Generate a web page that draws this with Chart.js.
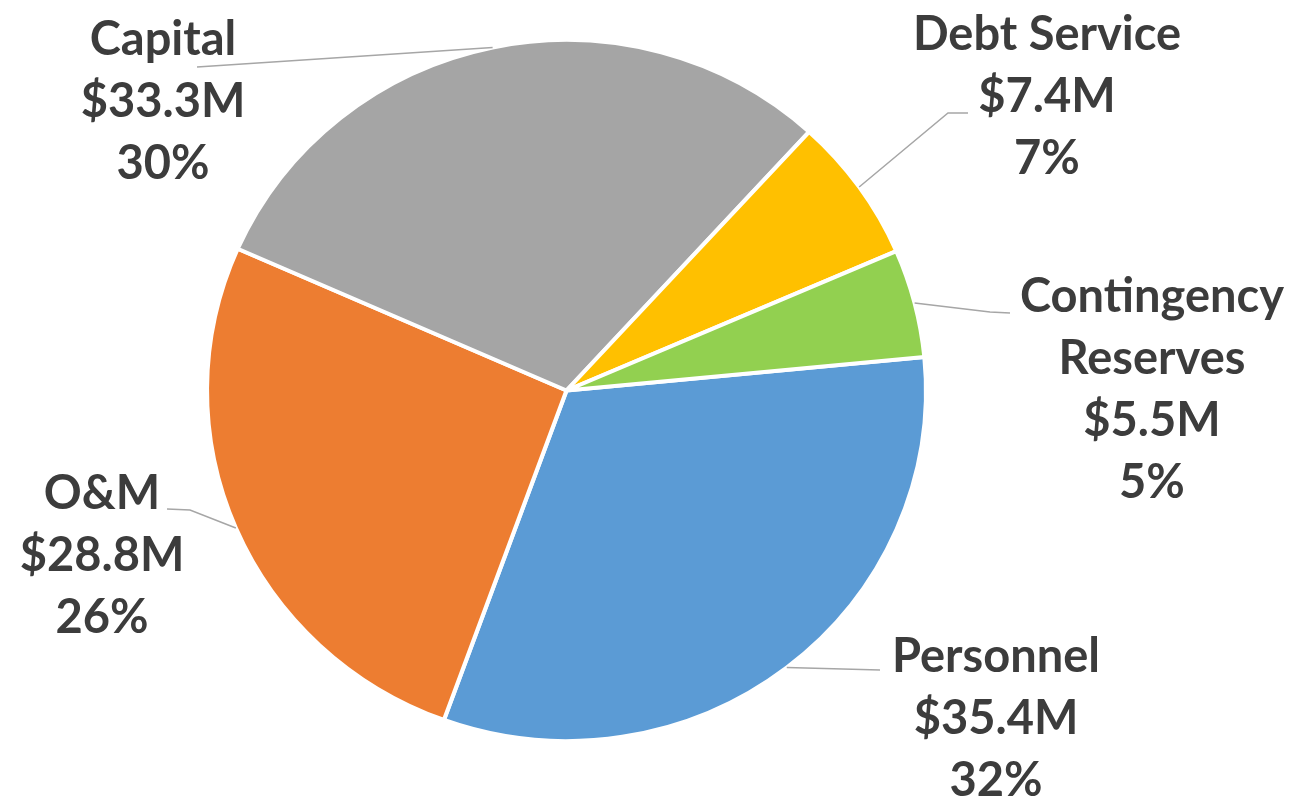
<!DOCTYPE html>
<html>
<head>
<meta charset="utf-8">
<script src="https://cdn.jsdelivr.net/npm/chart.js@4.4.1/dist/chart.umd.min.js"></script>
<style>
    html, body { margin: 0; padding: 0; background: #ffffff; }
    #wrap { width: 1289px; height: 798px; position: relative; }
</style>
</head>
<body>
<div id="wrap"><canvas id="pie-chart"></canvas></div>
<script>
// Budget categories (clockwise from Personnel)
const categories = ["Personnel", "O&M", "Capital", "Debt Service", "Contingency Reserves"];
const nameLines = [["Personnel"], ["O&M"], ["Capital"], ["Debt Service"], ["Contingency", "Reserves"]];
const amounts = [35.4, 28.8, 33.3, 7.4, 5.5]; // $M
const sliceColors = ["#5B9BD5", "#ED7D31", "#A5A5A5", "#FFC000", "#92D050"];

// label placement (text centre x, first baseline y, leader elbow, leader end)
const labelLayout = [
    { cx: 996, by: 672, ex: 880, ey: 670, tx: 880, ty: 670 },
    { cx: 102, by: 509, ex: 190, ey: 510, tx: 167, ty: 509 },
    { cx: 163, by: 55, ex: 197, ey: 67, tx: 197, ty: 67 },
    { cx: 1047, by: 50, ex: 948, ey: 113, tx: 968, ty: 113 },
    { cx: 1152, by: 312, ex: 990, ey: 312, tx: 1010, ty: 313 }
];

// the original pie is a little wider than tall
const stretchX = 1.0257;

const total = amounts.reduce((a, b) => a + b, 0);

const outsideLabels = {
    id: "outsideLabels",
    beforeDatasetsDraw(chart) {
        const a = chart.chartArea;
        const cx = (a.left + a.right) / 2;
        const cy = (a.top + a.bottom) / 2;
        chart.ctx.save();
        chart.ctx.translate(cx, cy);
        chart.ctx.scale(stretchX, 1);
        chart.ctx.translate(-cx, -cy);
    },
    afterDatasetsDraw(chart) {
        const ctx = chart.ctx;
        ctx.restore();
        const arcs = chart.getDatasetMeta(0).data;
        ctx.save();
        arcs.forEach((arc, i) => {
            const p = arc.getProps(["x", "y", "startAngle", "endAngle", "outerRadius"], true);
            const mid = (p.startAngle + p.endAngle) / 2;
            const sx = p.x + Math.cos(mid) * p.outerRadius * stretchX;
            const sy = p.y + Math.sin(mid) * p.outerRadius;
            const L = labelLayout[i];

            // leader line
            ctx.strokeStyle = "#a6a6a6";
            ctx.lineWidth = 1.5;
            ctx.beginPath();
            ctx.moveTo(sx, sy);
            ctx.lineTo(L.ex, L.ey);
            ctx.lineTo(L.tx, L.ty);
            ctx.stroke();

            // text
            const lines = nameLines[i].concat(["$" + amounts[i].toFixed(1) + "M", Math.round(amounts[i] / total * 100) + "%"]);
            ctx.fillStyle = "#3c3c3c";
            ctx.font = "bold 47px Lato";
            ctx.textAlign = "center";
            ctx.textBaseline = "alphabetic";
            lines.forEach((t, k) => {
                ctx.fillText(t, L.cx, L.by + k * 62);
            });
        });
        ctx.restore();
    }
};

const ctx = document.getElementById("pie-chart").getContext("2d");
const myChart = new Chart(ctx, {
    type: "pie",
    data: {
        labels: categories,
        datasets: [{
            data: amounts,
            backgroundColor: sliceColors,
            borderColor: "#ffffff",
            borderWidth: 4
        }]
    },
    options: {
        responsive: true,
        maintainAspectRatio: false,
        animation: false,
        rotation: 84.5,
        radius: 350.5,
        layout: { padding: { left: 100, right: 256, top: 20, bottom: 37 } },
        plugins: {
            legend: { display: false },
            tooltip: { enabled: false }
        }
    },
    plugins: [outsideLabels]
});
</script>
</body>
</html>
